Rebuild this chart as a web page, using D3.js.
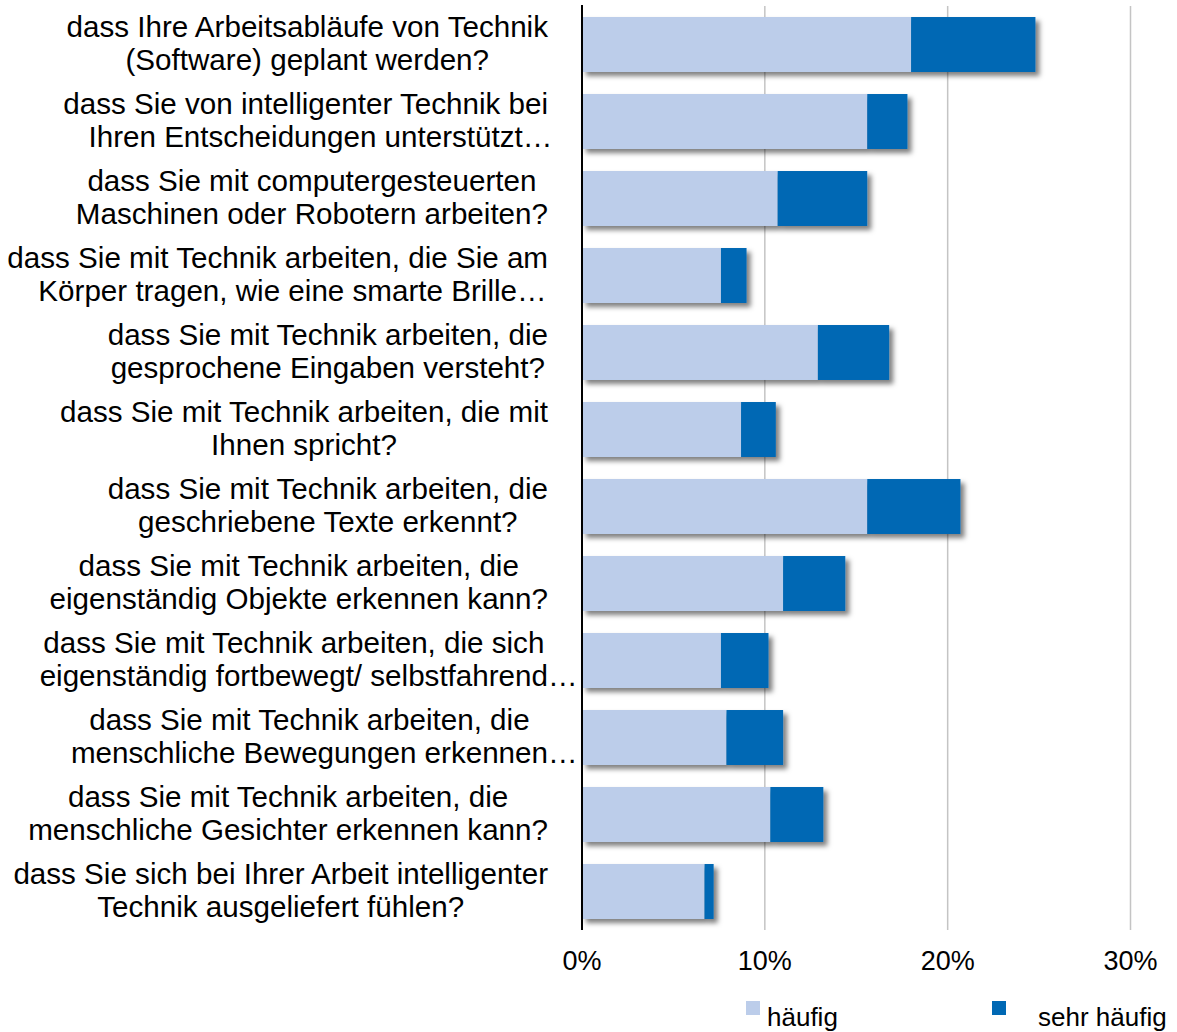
<!DOCTYPE html>
<html>
<head>
<meta charset="utf-8">
<script src="https://cdn.jsdelivr.net/npm/d3@7"></script>
<style>
  html, body { margin: 0; padding: 0; background: #fff; }
  svg { display: block; font-family: "Liberation Sans", Arial, sans-serif; }
</style>
</head>
<body>
<svg id="chart" width="1177" height="1032"></svg>
<script>
// category labels, one array of lines per row
var questions = [
  ["dass Ihre Arbeitsabläufe von Technik", "(Software) geplant werden?"],
  ["dass Sie von intelligenter Technik bei", "Ihren Entscheidungen unterstützt…"],
  ["dass Sie mit computergesteuerten", "Maschinen oder Robotern arbeiten?"],
  ["dass Sie mit Technik arbeiten, die Sie am", "Körper tragen, wie eine smarte Brille…"],
  ["dass Sie mit Technik arbeiten, die", "gesprochene Eingaben versteht?"],
  ["dass Sie mit Technik arbeiten, die mit", "Ihnen spricht?"],
  ["dass Sie mit Technik arbeiten, die", "geschriebene Texte erkennt?"],
  ["dass Sie mit Technik arbeiten, die", "eigenständig Objekte erkennen kann?"],
  ["dass Sie mit Technik arbeiten, die sich", "eigenständig fortbewegt/ selbstfahrend…"],
  ["dass Sie mit Technik arbeiten, die", "menschliche Bewegungen erkennen…"],
  ["dass Sie mit Technik arbeiten, die", "menschliche Gesichter erkennen kann?"],
  ["dass Sie sich bei Ihrer Arbeit intelligenter", "Technik ausgeliefert fühlen?"]
];
// percent values
var haeufig     = [18.0, 15.6, 10.7, 7.6, 12.9, 8.7, 15.6, 11.0, 7.6, 7.9, 10.3, 6.7];
var sehrHaeufig = [ 6.8,  2.2,  4.9, 1.4,  3.9, 1.9,  5.1,  3.4, 2.6, 3.1,  2.9, 0.5];
var seriesNames = ["häufig", "sehr häufig"];
var xTicks = [0, 10, 20, 30];

var colors = ["#bccdea", "#0068b4"];

var svg = d3.select("#chart");

// drop shadow under each bar
var defs = svg.append("defs");
defs.append("filter").attr("id", "shadow")
    .attr("x", "-10%").attr("y", "-20%").attr("width", "130%").attr("height", "160%")
  .append("feDropShadow")
    .attr("dx", 4).attr("dy", 4)
    .attr("stdDeviation", 2.5)
    .attr("flood-color", "#000")
    .attr("flood-opacity", 0.5);

var x = d3.scaleLinear().domain([0, 30]).range([582, 1130.5]);
var y = d3.scaleBand()
  .domain(d3.range(questions.length))
  .range([6, 930])
  .paddingInner(0.286)
  .paddingOuter(0.143);

// gridlines
svg.append("g")
  .selectAll("line")
  .data(xTicks.filter(function(d) { return d > 0; }))
  .join("line")
    .attr("x1", function(d) { return x(d); })
    .attr("x2", function(d) { return x(d); })
    .attr("y1", 6).attr("y2", 930)
    .attr("stroke", "#c4c4c4")
    .attr("stroke-width", 1.5);

// stacked bars
var rows = svg.append("g")
  .selectAll("g")
  .data(questions.map(function(q, i) {
    return { i: i, a: haeufig[i], b: sehrHaeufig[i] };
  }))
  .join("g")
    .attr("filter", "url(#shadow)");

rows.append("rect")
  .attr("x", x(0))
  .attr("y", function(d) { return y(d.i); })
  .attr("width", function(d) { return x(d.a) - x(0); })
  .attr("height", y.bandwidth())
  .attr("fill", colors[0]);

rows.append("rect")
  .attr("x", function(d) { return x(d.a); })
  .attr("y", function(d) { return y(d.i); })
  .attr("width", function(d) { return x(d.a + d.b) - x(d.a); })
  .attr("height", y.bandwidth())
  .attr("fill", colors[1]);

// vertical axis line at 0%
svg.append("line")
  .attr("x1", x(0)).attr("x2", x(0))
  .attr("y1", 5).attr("y2", 930)
  .attr("stroke", "#000")
  .attr("stroke-width", 2);

// x tick labels
svg.append("g")
  .selectAll("text")
  .data(xTicks)
  .join("text")
    .attr("x", function(d) { return x(d); })
    .attr("y", 970)
    .attr("text-anchor", "middle")
    .attr("font-size", 27)
    .attr("fill", "#000")
    .text(function(d) { return d + "%"; });

// category labels: centred block, right edge at 548, trailing ellipsis overflows
var labelRight = 548;
var labels = svg.append("g").attr("font-size", 29.6).attr("fill", "#000");
var measure = labels.append("text").attr("visibility", "hidden");
function textW(s) { measure.text(s); return measure.node().getComputedTextLength(); }

questions.forEach(function(lines, i) {
  var core = lines.map(function(s) { return s.replace(/…$/, ""); });
  var widths = core.map(textW);
  var maxW = d3.max(widths);
  var cx = labelRight - maxW / 2;
  var cy = y(i) + y.bandwidth() / 2;
  lines.forEach(function(s, j) {
    labels.append("text")
      .attr("x", cx - widths[j] / 2)
      .attr("y", cy - 8 + j * 33.5)
      .text(s);
  });
});
measure.remove();

// legend
var legendPos = [746, 992];
var legend = svg.append("g")
  .selectAll("g")
  .data(seriesNames)
  .join("g")
    .attr("transform", function(d, i) { return "translate(" + legendPos[i] + ",1001)"; });
legend.append("rect")
  .attr("width", 14).attr("height", 14)
  .attr("fill", function(d, i) { return colors[i]; });
legend.append("text")
  .attr("x", function(d, i) { return i === 0 ? 21 : 46; })
  .attr("y", 25)
  .attr("font-size", 26)
  .attr("fill", "#000")
  .text(function(d) { return d; });
</script>
</body>
</html>
